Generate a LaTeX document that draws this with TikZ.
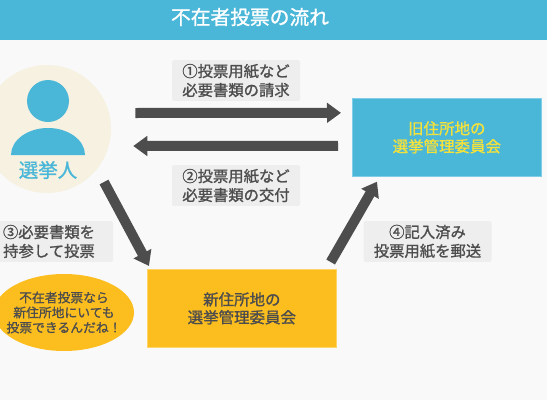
\documentclass[tikz,border=0pt]{standalone}
\usepackage{fontspec}
\usepackage{xcolor}
\usetikzlibrary{arrows.meta,shapes.geometric}
\setmainfont{Noto Sans CJK JP}[FakeBold=1.2]
\definecolor{pageback}{HTML}{F9F9F9}
\definecolor{skyblue}{HTML}{4BB7D8}
\definecolor{skyedge}{HTML}{7FCDE6}
\definecolor{amber}{HTML}{FCBE1E}
\definecolor{amberedge}{HTML}{FDD468}
\definecolor{cream}{HTML}{F6F1E0}
\definecolor{darkgrey}{HTML}{4D4D4D}
\definecolor{tagback}{HTML}{EEEEEE}
\definecolor{lemon}{HTML}{F3E13C}
\begin{document}
\begin{tikzpicture}[x=0.75pt,y=-0.75pt,office/.style={minimum width=141.75pt,minimum height=58.5pt,inner sep=0pt,align=center,font=\fontsize{11.6}{13.4}\selectfont,line width=0.5pt},tag/.style={fill=tagback,rounded corners=1.5pt,minimum width=96pt,minimum height=30.5pt,inner sep=0pt,align=center,text=darkgrey,font=\fontsize{11.5}{14.2}\selectfont},arr/.style={-{Triangle[length=10.5pt,width=14.5pt]},line width=7.5pt,draw=darkgrey}]
\useasboundingbox (0,0) rectangle (547,400);
\fill[pageback] (0,0) rectangle (547,400);
\fill[skyblue] (0,0) rectangle (547,39.5);
\node[text=white,font=\fontsize{14.8}{17}\selectfont] (title) at (250,17) {不在者投票の流れ};
\node[circle,fill=cream,minimum size=96pt,inner sep=0pt] (voter) at (47,129) {};
\fill[skyblue] (48,101) circle[radius=15.75pt];
\fill[skyblue] (11,155) arc[start angle=180,end angle=0,x radius=27.75pt,y radius=20.25pt] -- cycle;
\node[text=skyblue,font=\fontsize{14.6}{17}\selectfont] (voterlabel) at (48,170) {選挙人};
\node[office,anchor=north west,fill=skyblue,draw=skyedge,text=lemon] (oldbox) at (352,98) {旧住所地の\\選挙管理委員会};
\node[office,anchor=north west,fill=amber,draw=amberedge,text=darkgrey] (newbox) at (147,269) {新住所地の\\選挙管理委員会};
\node[tag] (t1) at (236,80.5) {①投票用紙など\\必要書類の請求};
\node[tag] (t2) at (236,185.5) {②投票用紙など\\必要書類の交付};
\node[tag] (t3) at (49,241.5) {③必要書類を\\持参して投票};
\node[tag] (t4) at (427.5,241.5) {④記入済み\\投票用紙を郵送};
\node[ellipse,fill=amber,minimum width=105pt,minimum height=57.75pt,inner xsep=-6pt,inner ysep=0pt,align=center,text=darkgrey,font=\fontsize{9.6}{11.25}\selectfont] (note) at (64,312.5) {不在者投票なら\\新住所地にいても\\投票できるんだね！};
\draw[arr] ([shift={(24,-16)}]voter.east) -- ([shift={(-11,-24.5)}]oldbox.west);
\draw[arr] ([shift={(-14,8.5)}]oldbox.west) -- ([shift={(22,17)}]voter.east);
\draw[arr] ([shift={(57,53)}]voter.center) -- ([shift={(2,-3)}]newbox.north west);
\draw[arr] ([shift={(-6,-7)}]newbox.north east) -- ([shift={(25,5)}]oldbox.south west);
\end{tikzpicture}
\end{document}
